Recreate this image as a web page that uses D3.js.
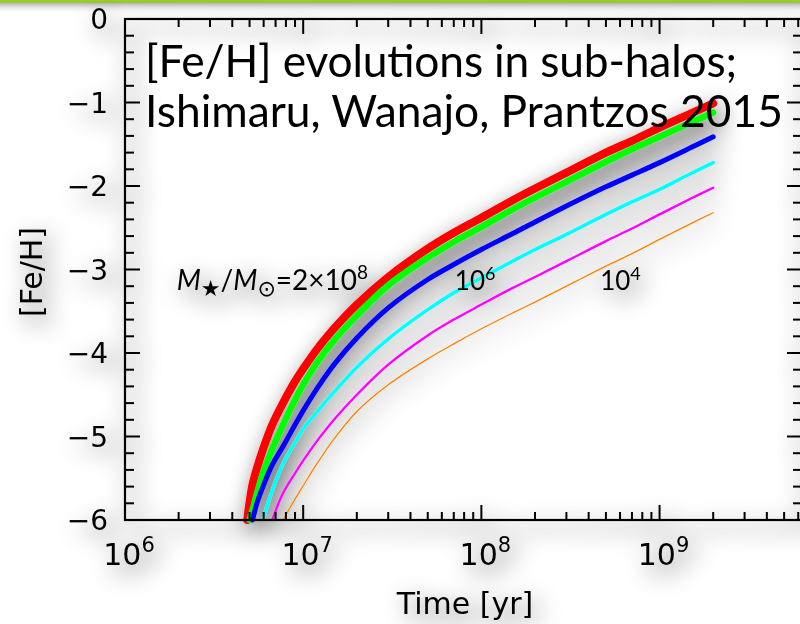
<!DOCTYPE html>
<html>
<head>
<meta charset="utf-8">
<script src="https://cdn.jsdelivr.net/npm/d3@7"></script>
<style>
  body { margin: 0; background: #fff; }
  svg { display: block; }
</style>
</head>
<body>
<div id="chart"></div>
<script>
// time grid [yr] shared by all models
const times = [4.85e6, 5e6, 5.2e6, 5.5e6, 6e6, 6.7e6, 7.7e6, 9e6, 1e7, 1.2e7, 1.5e7, 2e7, 3e7, 5e7, 7e7,
  1e8, 1.5e8, 2e8, 3e8, 5e8, 7e8, 1e9, 1.5e9, 2e9];

// [Fe/H] for each sub-halo mass (null = not started yet)
const feRed = [-6.00, -5.79, -5.57, -5.38, -5.13, -4.86, -4.60, -4.34, -4.19, -3.95, -3.70, -3.42, -3.09, -2.75, -2.56,
  -2.38, -2.17, -2.03, -1.84, -1.60, -1.46, -1.30, -1.13, -1.01];
const feGreen = [null, -6.00, -5.88, -5.68, -5.42, -5.15, -4.86, -4.56, -4.38, -4.11, -3.84, -3.55, -3.19, -2.86, -2.67,
  -2.49, -2.28, -2.14, -1.95, -1.71, -1.56, -1.41, -1.24, -1.12];
const feBlue = [null, null, -6.00, -5.80, -5.58, -5.34, -5.12, -4.86, -4.69, -4.42, -4.13, -3.82, -3.46, -3.12, -2.94,
  -2.76, -2.57, -2.43, -2.24, -2.01, -1.87, -1.72, -1.54, -1.41];
const feCyan = [null, null, null, null, -5.97, -5.65, -5.33, -5.07, -4.91, -4.70, -4.46, -4.17, -3.83, -3.48, -3.28,
  -3.10, -2.90, -2.76, -2.58, -2.34, -2.19, -2.04, -1.85, -1.72];
const feMagenta = [null, null, null, null, null, -6.00, -5.68, -5.44, -5.29, -5.05, -4.79, -4.50, -4.14, -3.79, -3.60,
  -3.42, -3.22, -3.09, -2.90, -2.66, -2.51, -2.34, -2.15, -2.02];
const feOrange = [null, null, null, null, null, null, -6.00, -5.75, -5.59, -5.32, -5.02, -4.70, -4.38, -4.07, -3.89,
  -3.71, -3.52, -3.39, -3.20, -2.96, -2.81, -2.64, -2.45, -2.32];

const seriesColors = ['#ff0000', '#00ff00', '#0000ff', '#00ffff', '#ff00ff', '#ff8000'];
const seriesWidths = [8, 6.5, 5, 3.5, 2.3, 1.3];

const yTicks = [0, -1, -2, -3, -4, -5, -6];
const xTickExps = [6, 7, 8, 9];

const titleLines = ['[Fe/H] evolutions in sub-halos;', 'Ishimaru, Wanajo, Prantzos 2015'];

var width = 800, height = 624;

var svg = d3.select('#chart')
  .append('svg')
  .attr('width', width)
  .attr('height', height);

var defs = svg.append('defs');

// soft drop shadow like the slide picture
var f = defs.append('filter')
  .attr('id', 'shadow')
  .attr('filterUnits', 'userSpaceOnUse')
  .attr('x', -60).attr('y', -60).attr('width', 920).attr('height', 760);
f.append('feGaussianBlur').attr('in', 'SourceAlpha').attr('stdDeviation', 12);
f.append('feOffset').attr('dx', 6).attr('dy', 8);
f.append('feComponentTransfer').append('feFuncA').attr('type', 'linear').attr('slope', 0.7);
var merge = f.append('feMerge');
merge.append('feMergeNode');
merge.append('feMergeNode').attr('in', 'SourceGraphic');

var grad = defs.append('linearGradient')
  .attr('id', 'barShadow')
  .attr('x1', 0).attr('y1', 0).attr('x2', 0).attr('y2', 1);
grad.append('stop').attr('offset', '0%').attr('stop-color', '#b4b4b4');
grad.append('stop').attr('offset', '100%').attr('stop-color', '#ffffff').attr('stop-opacity', 0);

// header bar of the slide
svg.append('rect').attr('x', 0).attr('y', 3).attr('width', width).attr('height', 11).attr('fill', 'url(#barShadow)');
svg.append('rect').attr('x', 0).attr('y', 0).attr('width', width).attr('height', 3).attr('fill', '#9ccb2c');

var x = d3.scaleLog().domain([1e6, 6.3e9]).range([125, 802]);
var y = d3.scaleLinear().domain([0, -6]).range([19, 520]);

var g = svg.append('g').attr('filter', 'url(#shadow)');

//Curves
var line = d3.line()
  .defined(d => d[1] != null)
  .x(d => x(d[0]))
  .y(d => y(d[1]))
  .curve(d3.curveCatmullRom.alpha(0.5));

var allSeries = [feRed, feGreen, feBlue, feCyan, feMagenta, feOrange];
allSeries.forEach((vals, i) => {
  g.append('path')
    .datum(times.map((t, j) => [t, vals[j]]))
    .attr('d', line)
    .attr('fill', 'none')
    .attr('stroke', seriesColors[i])
    .attr('stroke-width', seriesWidths[i])
    .attr('stroke-linejoin', 'round')
    .attr('stroke-linecap', 'round');
});

//Frame
var x0 = x.range()[0], x1 = x.range()[1], y0 = y.range()[0], y1 = y.range()[1];
g.append('rect')
  .attr('x', x0).attr('y', y0)
  .attr('width', x1 - x0).attr('height', y1 - y0)
  .attr('fill', 'none').attr('stroke', '#000').attr('stroke-width', 2.2);

// x ticks (major at decades, minor at 2..9)
var xt = [];
for (var e = 6; e <= 9; e++) {
  for (var m = 1; m <= 9; m++) {
    var t = m * Math.pow(10, e);
    if (t <= x.domain()[1]) xt.push({ t: t, major: m == 1 });
  }
}
var ticks = g.append('g').attr('stroke', '#000').attr('stroke-width', 2);
xt.forEach(d => {
  var len = d.major ? 15 : 8;
  ticks.append('line').attr('x1', x(d.t)).attr('x2', x(d.t)).attr('y1', y1).attr('y2', y1 - len);
  ticks.append('line').attr('x1', x(d.t)).attr('x2', x(d.t)).attr('y1', y0).attr('y2', y0 + len);
});

// y ticks every 0.2
d3.range(0, 31).forEach(k => {
  var v = -k * 0.2;
  var len = (k % 5 == 0) ? 15 : 9;
  ticks.append('line').attr('x1', x0).attr('x2', x0 + len).attr('y1', y(v)).attr('y2', y(v));
  ticks.append('line').attr('x1', x1).attr('x2', x1 - len).attr('y1', y(v)).attr('y2', y(v));
});

var axisFont = '"DejaVu Sans", sans-serif';

g.selectAll('.ylab')
  .data(yTicks)
  .enter()
  .append('text')
  .attr('x', 108)
  .attr('y', d => y(d) + 10)
  .attr('text-anchor', 'end')
  .style('font-family', axisFont)
  .style('font-size', '28px')
  .text(d => d == 0 ? '0' : '\u2212' + Math.abs(d));

var xl = g.selectAll('.xlab')
  .data(xTickExps)
  .enter()
  .append('text')
  .attr('x', d => x(Math.pow(10, d)) + 4)
  .attr('y', 565)
  .attr('text-anchor', 'middle')
  .style('font-family', axisFont)
  .style('font-size', '30px');
xl.append('tspan').text('10');
xl.append('tspan').attr('dy', -13).style('font-size', '21px').text(d => d);

g.append('text')
  .attr('x', 465).attr('y', 614)
  .attr('text-anchor', 'middle')
  .style('font-family', axisFont)
  .style('font-size', '30px')
  .text('Time [yr]');

g.append('text')
  .attr('transform', 'translate(42,272) rotate(-90)')
  .attr('text-anchor', 'middle')
  .style('font-family', axisFont)
  .style('font-size', '30px')
  .text('[Fe/H]');

//Curve labels
var labFont = 'Lato, "DejaVu Sans", sans-serif';
var massLab = g.append('text')
  .attr('x', x(1.95e6)).attr('y', y(-3.24))
  .style('font-family', labFont)
  .style('font-size', '28px');
massLab.append('tspan').style('font-style', 'italic').text('M');
massLab.append('tspan').attr('dy', 6).style('font-size', '22px').style('font-family', '"DejaVu Sans"').text('\u2605');
massLab.append('tspan').attr('dy', -6).text('/');
massLab.append('tspan').style('font-style', 'italic').text('M');
massLab.append('tspan').attr('dy', 6).style('font-size', '22px').style('font-family', '"DejaVu Sans"').text('\u2299');
massLab.append('tspan').attr('dy', -6).text('=2\u00d710');
massLab.append('tspan').attr('dy', -11).style('font-size', '19px').text('8');

[[7.1e7, '6'], [4.64e8, '4']].forEach(p => {
  var tl = g.append('text')
    .attr('x', x(p[0])).attr('y', y(-3.24))
    .style('font-family', labFont)
    .style('font-size', '26px');
  tl.append('tspan').text('10');
  tl.append('tspan').attr('dy', -10).style('font-size', '18px').text(p[1]);
});

//Title (separate text box, no shadow)
var title = svg.append('g');
var tl1 = title.append('text').attr('x', 145).attr('y', 77).style('font-family', labFont).style('font-size', '40px').text(titleLines[0]);
var tl2 = title.append('text').attr('x', 145).attr('y', 127).style('font-family', labFont).style('font-size', '40px').text(titleLines[1]);
var fs = 40 * 638 / tl2.node().getComputedTextLength();
tl1.style('font-size', fs + 'px').attr('textLength', 592).attr('lengthAdjust', 'spacing');
tl2.style('font-size', fs + 'px');
</script>
</body>
</html>
